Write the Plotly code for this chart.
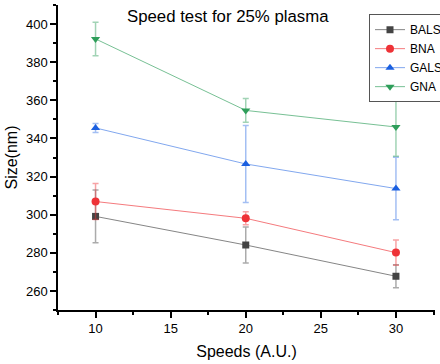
import plotly.graph_objects as go

speeds = [10, 20, 30]
series_names = ["BALS", "BNA", "GALS", "GNA"]
bals = [299.1, 284.1, 267.7]
bals_err = [13.8, 9.5, 6.0]
bna = [306.9, 298.1, 280.1]
bna_err = [9.4, 3.4, 6.6]
gals = [345.5, 326.6, 313.7]
gals_err = [2.4, 20.2, 16.4]
gna = [392.2, 354.7, 346.0]
gna_err = [8.8, 6.2, 15.3]

values = [bals, bna, gals, gna]
errors = [bals_err, bna_err, gals_err, gna_err]
marker_colors = ["#444444", "#ee3237", "#1a5fe0", "#2e9e5a"]
line_colors = ["rgba(68,68,68,0.65)", "rgba(238,50,55,0.65)", "rgba(26,95,224,0.55)", "rgba(46,158,90,0.65)"]
err_colors = ["rgba(68,68,68,0.45)", "rgba(238,50,55,0.45)", "rgba(26,95,224,0.4)", "rgba(46,158,90,0.45)"]
symbols = ["square", "circle", "triangle-up", "triangle-down"]
sizes = [7, 8, 8, 8]

FONT = "Arial, Liberation Sans, sans-serif"

fig = go.Figure()
for name, v, e, mc, lc, ec, s, sz in zip(series_names, values, errors, marker_colors,
                                         line_colors, err_colors, symbols, sizes):
    fig.add_trace(go.Scatter(
        x=speeds, y=v, name=name, mode="lines+markers",
        line=dict(color=lc, width=1),
        marker=dict(color=mc, symbol=s, size=sz),
        error_y=dict(type="data", array=e, visible=True, color=ec, thickness=1.5, width=3),
    ))

fig.update_layout(
    width=440, height=364,
    margin=dict(l=58, r=5, t=5, b=54, autoexpand=False),
    plot_bgcolor="white", paper_bgcolor="white",
    font=dict(family=FONT, size=13, color="black"),
    showlegend=True,
    legend=dict(x=(369 - 58) / 377, y=0.97, xanchor="left", yanchor="top",
                bordercolor="#555555", borderwidth=1, bgcolor="white",
                font=dict(size=12, family=FONT), tracegroupgap=0),
    xaxis=dict(range=[7.5, 32.6], tickvals=[10, 15, 20, 25, 30],
               showline=True, linecolor="black", linewidth=1.5,
               ticks="outside", ticklen=6, tickwidth=1.5, tickcolor="black",
               minor=dict(ticks="outside", ticklen=3, tickwidth=1.5, tickcolor="black", dtick=2.5, tick0=7.5),
               showgrid=False, zeroline=False, mirror=False,
               title=dict(text="Speeds (A.U.)", font=dict(size=16), standoff=10),
               tickfont=dict(size=13)),
    yaxis=dict(range=[250, 410], tickvals=[260, 280, 300, 320, 340, 360, 380, 400],
               showline=True, linecolor="black", linewidth=1.5,
               ticks="outside", ticklen=6, tickwidth=1.5, tickcolor="black",
               minor=dict(ticks="outside", ticklen=3, tickwidth=1.5, tickcolor="black", dtick=10, tick0=250),
               showgrid=False, zeroline=False, mirror=False,
               title=dict(text="Size(nm)", font=dict(size=16), standoff=4),
               tickfont=dict(size=13)),
    annotations=[dict(text="Speed test for 25% plasma", x=(228 - 58) / 377, y=(310 - 17) / 305,
                      xref="paper", yref="paper",
                      showarrow=False, font=dict(size=16.8, family=FONT),
                      xanchor="center", yanchor="middle")],
)

fig.write_html("out.html")
